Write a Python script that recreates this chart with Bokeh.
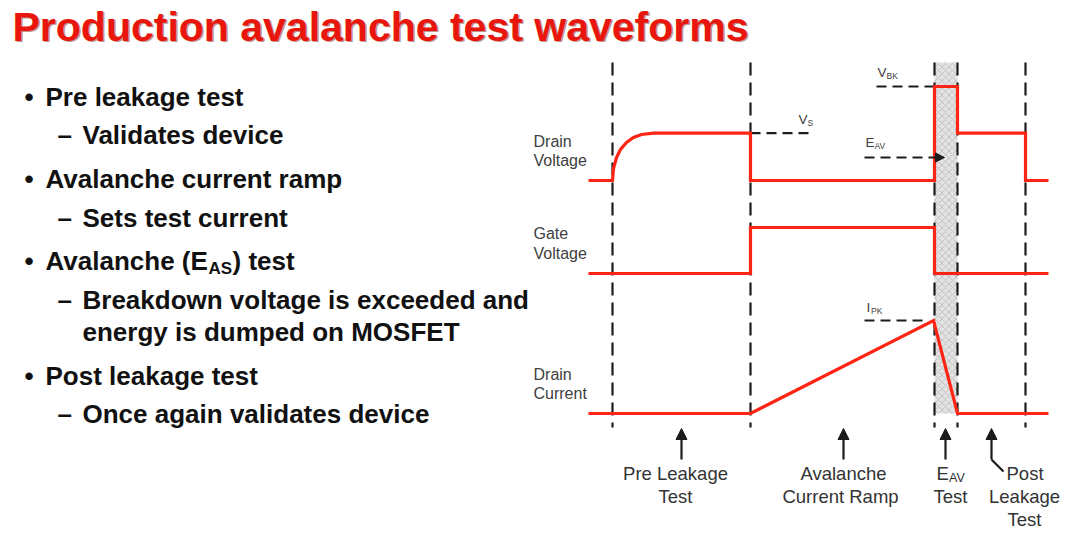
from bokeh.plotting import figure
from bokeh.models import Range1d, ColumnDataSource, Arrow, NormalHead
from bokeh.core.properties import value
from bokeh.embed import file_html
from bokeh.resources import INLINE

# ---------------- data ----------------
title_text = "Production avalanche test waveforms"

# bullet list (level 0 = bullet, level 1 = dash)
bullet_texts = ["Pre leakage test", "Avalanche current ramp", "Post leakage test"]
bullet_base = [107, 189, 386]
sub_texts = ["Validates device", "Sets test current",
             "Breakdown voltage is exceeded and", "energy is dumped on MOSFET",
             "Once again validates device"]
sub_base = [145, 228, 310, 342, 424]
sub_dash = [True, True, True, False, True]
eas_parts = ["Avalanche (E", "AS", ") test"]
eas_base = 271

# waveform diagram (time axis runs left to right)
phase_bounds = [612, 750, 934, 957, 1025]
dash_top, dash_bottom = 62, 427
eav_band = (934, 957, 62, 413)

drain_v_t = [588, 612, 613, 616, 620, 626, 633, 641, 653, 750, 750, 934, 934, 957, 957, 1025, 1025, 1048]
drain_v = [180, 180, 168, 157, 149, 142, 137, 134, 132.7, 132.7, 180, 180, 86, 86, 132.7, 132.7, 180, 180]

gate_v_t = [588, 750, 750, 934, 934, 1048]
gate_v = [273, 273, 227, 227, 273, 273]

drain_i_t = [588, 750, 933, 957, 1048]
drain_i = [413, 413, 320, 413, 413]

# reference levels (dashed)
ref_x0 = [750, 876, 864]
ref_x1 = [810, 934, 926]
ref_y = [132.7, 86, 320]

side_labels = ["Drain", "Voltage", "Gate", "Voltage", "Drain", "Current"]
side_base = [147, 166, 239, 259, 380, 399]

ref_main = ["V", "V", "E", "I"]
ref_sub = ["S", "BK", "AV", "PK"]
ref_lab_x = [798, 877, 865, 866]
ref_lab_y = [124, 77, 147, 312]

phase_arrow_x = [681, 843, 945, 991]
phase_arrow_y0, phase_arrow_y1 = 459, 428

bottom_lines = ["Pre Leakage", "Test", "Avalanche", "Current Ramp", "Test", "Leakage", "Test"]
bottom_x = [675, 675, 843, 840, 950, 1024, 1024]
bottom_y = [480, 503, 480, 503, 503, 503, 526]

# ---------------- figure ----------------
W, H = 1080, 534
p = figure(width=W, height=H, x_range=Range1d(0, W), y_range=Range1d(H, 0),
           output_backend="svg", toolbar_location=None, min_border=0,
           x_axis_location=None, y_axis_location=None)
p.grid.visible = False
p.outline_line_color = None
p.background_fill_color = "white"
p.border_fill_color = "white"

FONT = value("Liberation Sans")
RED = "#ff2414"
DARK = "#1c1c1c"
GRAY_TXT = "#404040"
K = 0.39  # baseline correction of the text renderer (fraction of font size)


def txt(xs, ys, texts, size, **kw):
    kw.setdefault("text_font", FONT)
    kw.setdefault("text_baseline", "alphabetic")
    p.text(x=xs, y=[y - K * size for y in ys], text=texts,
           text_font_size=f"{size}px", **kw)


# title (with subtle shadow)
txt([13.5], [43.5], [title_text], 41, text_font_style="bold", text_color="#6a1008", text_alpha=0.45)
txt([12], [42], [title_text], 41, text_font_style="bold", text_color="#e8160c")

# bullets
bk = dict(text_font_style="bold", text_color="#111111")
txt([24] * (len(bullet_base) + 1), bullet_base + [eas_base], ["•"] * (len(bullet_base) + 1), 26, **bk)
txt([45] * len(bullet_base), bullet_base, bullet_texts, 26, **bk)
txt([45], [eas_base], [eas_parts[0]], 26, **bk)
txt([208], [eas_base + 4], [eas_parts[1]], 17, **bk)
txt([232], [eas_base], [eas_parts[2]], 26, **bk)
dash_y = [b for b, d in zip(sub_base, sub_dash) if d]
txt([57] * len(dash_y), dash_y, ["–"] * len(dash_y), 26, **bk)
txt([82] * len(sub_base), sub_base, sub_texts, 26, **bk)

# hatched avalanche band
p.quad(left=[eav_band[0]], right=[eav_band[1]], top=[eav_band[2]], bottom=[eav_band[3]],
       fill_color="#e2e2e2", line_color=None, hatch_pattern="diagonal_cross",
       hatch_color="#a6a6a6", hatch_scale=7, hatch_weight=0.5)

# phase boundaries
p.segment(x0=phase_bounds, y0=[dash_top] * len(phase_bounds),
          x1=phase_bounds, y1=[dash_bottom] * len(phase_bounds),
          line_color=DARK, line_width=2.2, line_dash="13 7")

# reference level dashes
p.segment(x0=ref_x0, y0=ref_y, x1=ref_x1, y1=ref_y,
          line_color=DARK, line_width=2.2, line_dash="10 6")

# E_AV dashed arrow
p.add_layout(Arrow(end=NormalHead(size=9, fill_color=DARK, line_color=DARK),
                   x_start=864, y_start=157, x_end=944, y_end=157,
                   line_color=DARK, line_width=2.2, line_dash="10 6"))

# waveforms
for t, v in [(drain_v_t, drain_v), (gate_v_t, gate_v), (drain_i_t, drain_i)]:
    p.line(t, v, line_color=RED, line_width=3.2, line_join="miter")

# side labels
txt([533] * len(side_labels), side_base, side_labels, 16, text_color=GRAY_TXT)

# reference labels with subscripts
txt(ref_lab_x, ref_lab_y, ref_main, 13.5, text_color=GRAY_TXT)
sub_off = [9, 9, 9, 4.5]
txt([a + b for a, b in zip(ref_lab_x, sub_off)], [y + 2 for y in ref_lab_y], ref_sub, 8.5, text_color=GRAY_TXT)

# phase arrows
src = ColumnDataSource(dict(x=phase_arrow_x, y0=[phase_arrow_y0] * 4, y1=[phase_arrow_y1] * 4))
p.add_layout(Arrow(end=NormalHead(size=11, fill_color=DARK, line_color=DARK),
                   x_start="x", y_start="y0", x_end="x", y_end="y1", source=src,
                   line_color=DARK, line_width=2.2))
p.line([phase_arrow_x[3], phase_arrow_x[3] + 12], [phase_arrow_y0, phase_arrow_y0 + 12],
       line_color=DARK, line_width=2.2)

# bottom labels
lc = dict(text_color="#333333")
txt(bottom_x, bottom_y, bottom_lines, 18.5, text_align="center", **lc)
txt([1006], [480], ["Post"], 18.5, **lc)
txt([936], [480], ["E"], 18.5, **lc)
txt([948.5], [482], ["AV"], 12.5, **lc)

open("out.html", "w").write(file_html(p, INLINE))
